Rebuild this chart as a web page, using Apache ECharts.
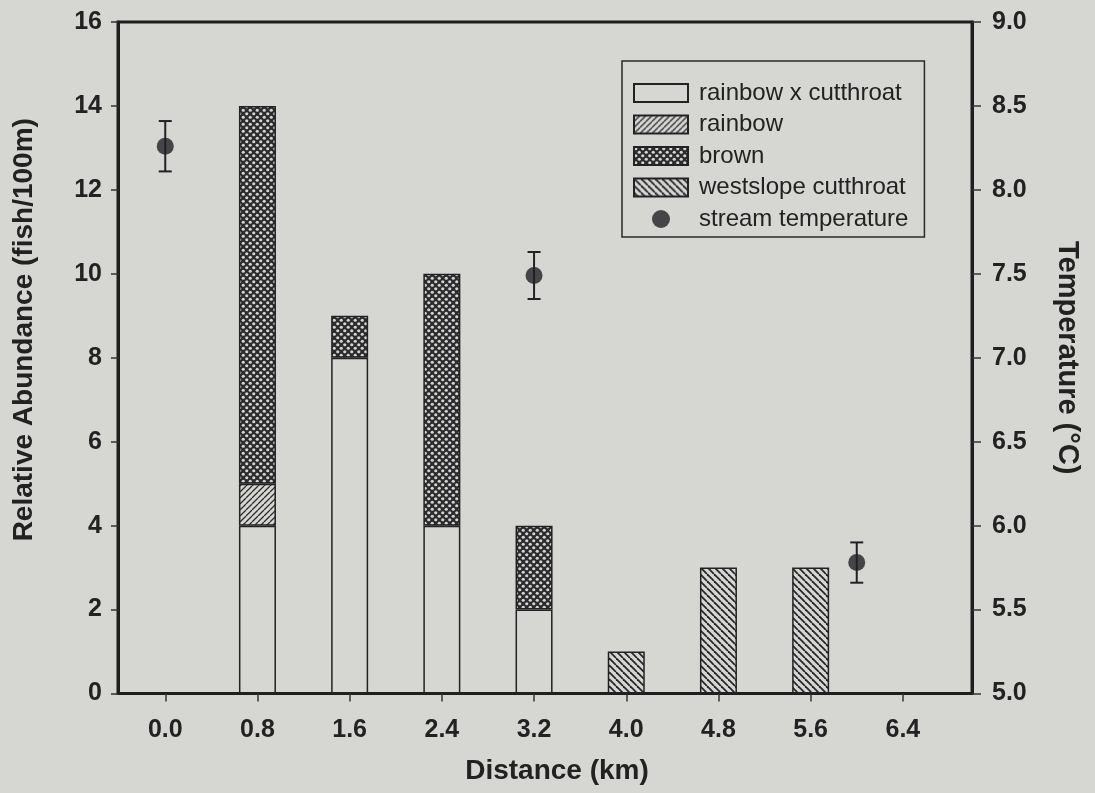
<!DOCTYPE html>
<html>
<head>
<meta charset="utf-8">
<script src="https://cdn.jsdelivr.net/npm/echarts@6/dist/echarts.min.js"></script>
<style>
html,body{margin:0;padding:0;background:#d6d6d3;}
#chart{width:1095px;height:793px;}
</style>
</head>
<body>
<div id="chart"></div>
<script>
// ---- data ----
var distances = [0.8, 1.6, 2.4, 3.2, 4.0, 4.8, 5.6];
var rainbowXCutthroat = [4, 8, 4, 2, null, null, null];
var rainbow = [1, null, null, null, null, null, null];
var brown = [9, 1, 6, 2, null, null, null];
var westslopeCutthroat = [null, null, null, null, 1, 3, 3];

var tempDistances = [0.0, 3.2, 6.0];
var tempValues = [8.26, 7.49, 5.78];
var tempErrors = [0.15, 0.14, 0.12];

var xTickValues = [0.0, 0.8, 1.6, 2.4, 3.2, 4.0, 4.8, 5.6, 6.4];

var seriesNames = ['rainbow x cutthroat', 'rainbow', 'brown', 'westslope cutthroat', 'stream temperature'];

// ---- patterns ----
var BG = '#d6d6d3';
var INK = '#222224';
function makeTile(size, draw) {
  var c = document.createElement('canvas');
  c.width = size; c.height = size;
  var ctx = c.getContext('2d');
  draw(ctx, size);
  return { image: c, repeat: 'repeat' };
}
var fillPlain = BG;
var fillRainbow = makeTile(6, function (ctx, s) {
  ctx.fillStyle = BG; ctx.fillRect(0, 0, s, s);
  ctx.strokeStyle = '#2e2e30'; ctx.lineWidth = 1.3;
  for (var k = -1; k <= 1; k++) {
    ctx.beginPath(); ctx.moveTo(k * s, s); ctx.lineTo(k * s + s, 0); ctx.stroke();
  }
});
var fillWest = makeTile(7, function (ctx, s) {
  ctx.fillStyle = BG; ctx.fillRect(0, 0, s, s);
  ctx.strokeStyle = '#262628'; ctx.lineWidth = 1.8;
  for (var k = -1; k <= 1; k++) {
    ctx.beginPath(); ctx.moveTo(k * s, 0); ctx.lineTo(k * s + s, s); ctx.stroke();
  }
});
var fillBrown = makeTile(7, function (ctx, s) {
  ctx.fillStyle = '#2c2c2e'; ctx.fillRect(0, 0, s, s);
  ctx.fillStyle = '#d4d4d2';
  var pts = [[1.75, 1.75], [5.25, 5.25]];
  pts.forEach(function (p) { ctx.beginPath(); ctx.arc(p[0], p[1], 1.6, 0, Math.PI * 2); ctx.fill(); });
});

// value first, distance second, so the stack runs on the abundance dimension
function pairs(xs, ys) { return xs.map(function (x, i) { return [ys[i] == null ? '-' : ys[i], x]; }); }

function barSeries(name, vals, fill) {
  return {
    type: 'bar', stack: 'fish', barWidth: 37,
    xAxisIndex: 0, yAxisIndex: 0,
    name: name,
    dimensions: ['abundance', 'distance'],
    encode: { x: 1, y: 0 },
    data: pairs(distances, vals),
    itemStyle: { color: fill, borderColor: INK, borderWidth: 1.5 },
    emphasis: { disabled: true }
  };
}

var FONT = '"Liberation Sans", Arial, sans-serif';
var chart = echarts.init(document.getElementById('chart'), null, { renderer: 'canvas' });
chart.setOption({
  backgroundColor: BG,
  animation: false,
  textStyle: { fontFamily: FONT },
  grid: { left: 118, right: 123, top: 22, bottom: 99.5, show: true, borderColor: '#1e1e1e', borderWidth: 3, backgroundColor: 'transparent', containLabel: false },
  legend: {
    orient: 'vertical', left: 622, top: 61,
    padding: [20, 16, 6, 11],
    itemWidth: 54, itemHeight: 18, itemGap: 7.5, itemTextGap: 13,
    backgroundColor: BG, borderColor: '#2a2a2a', borderWidth: 1.5,
    textStyle: { fontSize: 24, color: '#222', fontFamily: FONT, padding: [0, 0, 0, 6] },
    data: [
      { name: seriesNames[0], icon: 'rect' },
      { name: seriesNames[1], icon: 'rect' },
      { name: seriesNames[2], icon: 'rect' },
      { name: seriesNames[3], icon: 'rect' },
      { name: seriesNames[4], icon: 'circle' }
    ],
    selectedMode: false
  },
  xAxis: {
    type: 'value', min: -0.41, max: 7.0,
    name: 'Distance (km)', nameLocation: 'middle', nameGap: 64,
    nameTextStyle: { fontSize: 28, fontWeight: 'bold', color: '#222', fontFamily: FONT, padding: [0, 0, 0, 24] },
    axisLine: { show: true, onZero: false, lineStyle: { color: '#1e1e1e', width: 3 } },
    axisTick: { show: true, length: 8, customValues: xTickValues, lineStyle: { color: '#333', width: 1.5 } },
    axisLabel: { customValues: xTickValues, margin: 24, fontSize: 25, fontWeight: 'bold', color: '#222', fontFamily: FONT,
      formatter: function (v) { return Number(v).toFixed(1); } },
    splitLine: { show: false }
  },
  yAxis: [{
    type: 'value', min: 0, max: 16, interval: 2, position: 'left',
    name: 'Relative Abundance (fish/100m)', nameLocation: 'middle', nameGap: 80, nameRotate: 90,
    nameTextStyle: { fontSize: 28, fontWeight: 'bold', color: '#222', fontFamily: FONT, padding: [0, 0, 0, 56] },
    axisLine: { show: true, onZero: false, lineStyle: { color: '#1e1e1e', width: 3 } },
    axisTick: { show: true, length: 7, lineStyle: { color: '#333', width: 1.5 } },
    axisLabel: { margin: 16, fontSize: 25, fontWeight: 'bold', color: '#222', fontFamily: FONT },
    splitLine: { show: false }
  }, {
    type: 'value', min: 5, max: 9, interval: 0.5, position: 'right',
    name: 'Temperature (°C)', nameLocation: 'middle', nameGap: 80, nameRotate: -90,
    nameTextStyle: { fontSize: 29, fontWeight: 'bold', color: '#222', fontFamily: FONT },
    axisLine: { show: true, onZero: false, lineStyle: { color: '#1e1e1e', width: 3 } },
    axisTick: { show: true, length: 9, lineStyle: { color: '#333', width: 1.5 } },
    axisLabel: { margin: 20, fontSize: 25, fontWeight: 'bold', color: '#222', fontFamily: FONT,
      formatter: function (v) { return Number(v).toFixed(1); } },
    splitLine: { show: false }
  }],
  series: [
    barSeries(seriesNames[0], rainbowXCutthroat, fillPlain),
    barSeries(seriesNames[1], rainbow, fillRainbow),
    barSeries(seriesNames[2], brown, fillBrown),
    barSeries(seriesNames[3], westslopeCutthroat, fillWest),
    {
      name: 'temperature error', type: 'custom', xAxisIndex: 0, yAxisIndex: 1,
      data: tempDistances.map(function (x, i) { return [x, tempValues[i] - tempErrors[i], tempValues[i] + tempErrors[i]]; }),
      renderItem: function (params, api) {
        var x = api.value(0);
        var lo = api.coord([x, api.value(1)]);
        var hi = api.coord([x, api.value(2)]);
        var hw = 6.5;
        var st = { stroke: '#222226', lineWidth: 2 };
        return {
          type: 'group',
          children: [
            { type: 'line', shape: { x1: lo[0], y1: lo[1], x2: hi[0], y2: hi[1] }, style: st },
            { type: 'line', shape: { x1: lo[0] - hw, y1: lo[1], x2: lo[0] + hw, y2: lo[1] }, style: st },
            { type: 'line', shape: { x1: hi[0] - hw, y1: hi[1], x2: hi[0] + hw, y2: hi[1] }, style: st }
          ]
        };
      },
      z: 3, silent: true
    },
    {
      name: seriesNames[4], type: 'scatter', xAxisIndex: 0, yAxisIndex: 1,
      symbol: 'circle', symbolSize: 17,
      itemStyle: { color: '#202024' },
      data: tempDistances.map(function (x, i) { return [x, tempValues[i]]; }),
      z: 4, emphasis: { disabled: true }
    }
  ]
});
</script>
</body>
</html>
